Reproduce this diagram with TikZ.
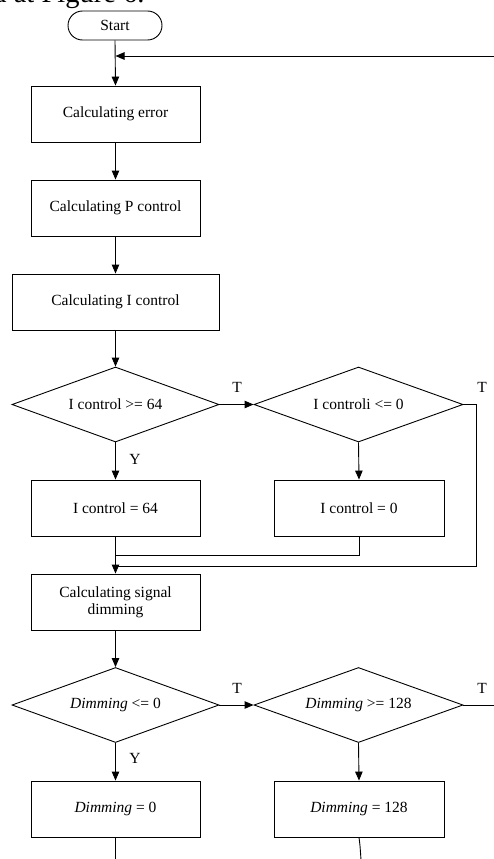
\documentclass[tikz,border=0pt]{standalone}
\usepackage{fontspec}
\setmainfont{Liberation Serif}
\usetikzlibrary{shapes.geometric,arrows.meta}
\begin{document}
\begin{tikzpicture}[x=1pt,y=-1pt,
  line width=0.9pt,
  every node/.style={font=\fontsize{15.5}{17}\selectfont},
  proc/.style={draw,rectangle,inner sep=0pt,minimum width=169pt,minimum height=56pt,align=center},
  term/.style={draw,rectangle,rounded corners=14.5pt,inner sep=0pt,minimum width=94pt,minimum height=29pt},
  dec/.style={draw,diamond,aspect=2.76,inner sep=0pt,minimum width=207pt,minimum height=75pt},
  arr/.style={-{Triangle[length=9pt,width=7.5pt]}},
  lbl/.style={inner sep=0pt}
]
\useasboundingbox (0,0) rectangle (493,859);
\begin{scope}
\clip (0,0) rectangle (493,859);
\node[anchor=base west,inner sep=0pt,font=\fontsize{28.5}{30}\selectfont] (cut) at (-8,2.5) {d at Figure 6.};
\end{scope}

\node[term] (start) at (115,25.5) {Start};
\node[proc] (err) at (115.5,114) {Calculating error};
\node[proc] (pc) at (115.5,208) {Calculating P control};
\node[proc,minimum width=207pt] (ic) at (115.5,302) {Calculating I control};
\node[dec] (d1) at (115.5,404.5) {I control >= 64};
\node[dec,minimum width=209pt] (d2) at (358.5,404.5) {I controli <= 0};
\node[proc] (b64) at (115.5,508) {I control = 64};
\node[proc,minimum width=170pt] (b0) at (359,508) {I control = 0};
\node[proc] (sig) at (115.5,602) {Calculating signal\\dimming};
\node[dec] (d3) at (115.5,705) {\textit{Dimming} <= 0};
\node[dec,minimum width=209pt] (d4) at (358.5,705) {\textit{Dimming} >= 128};
\node[proc] (bd0) at (115.5,809) {\textit{Dimming} = 0};
\node[proc,minimum width=170pt] (bd128) at (359,809) {\textit{Dimming} = 128};

\node[lbl] (t1) at (237,387) {T};
\node[lbl] (t2) at (482,387) {T};
\node[lbl] (y1) at (135,459) {Y};
\node[lbl] (t3) at (237,688) {T};
\node[lbl] (t4) at (482,688) {T};
\node[lbl] (y2) at (135,758) {Y};

\coordinate (fbR) at (494,56);
\coordinate (fb) at (115.5,56);
\coordinate (r1) at (476,404.5);
\coordinate (j1) at (115.5,555);
\coordinate (j2) at (115.5,566);
\coordinate (r2) at (494,705);
\coordinate (e1) at (115.5,860);
\coordinate (e2) at (361,860);

\draw[arr] (start.south) -- (err.north);
\draw[arr] (fbR) -- (fb);
\draw[arr] (err) -- (pc);
\draw[arr] (pc) -- (ic);
\draw[arr] (ic) -- (d1);
\draw[arr] (d1.east) -- (d2.west);
\draw[arr] (d1.south) -- (b64.north);
\draw[arr] (d2.south) -- (b0.north);
\draw[arr] (b64.south) -- (sig.north);
\draw (b0.south) |- (j1);
\draw (d2.east) -- (r1) |- (j2);
\draw[arr] (sig) -- (d3);
\draw[arr] (d3.east) -- (d4.west);
\draw (d4.east) -- (r2);
\draw[arr] (d3.south) -- (bd0.north);
\draw[arr] (d4.south) -- (bd128.north);
\draw (bd0.south) -- (e1);
\draw (bd128.south) .. controls (360,845) .. (e2);
\end{tikzpicture}
\end{document}
